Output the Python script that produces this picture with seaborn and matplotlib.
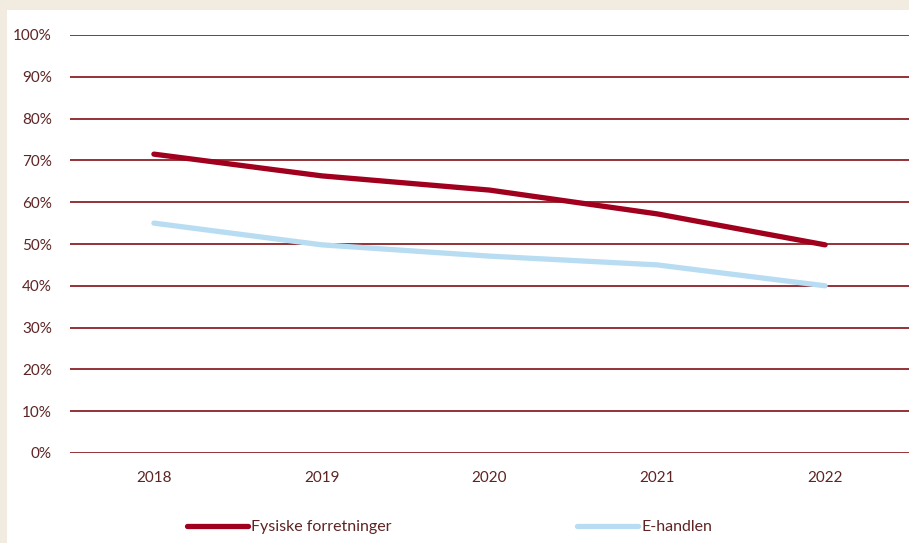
import matplotlib
matplotlib.use("Agg")
import matplotlib.pyplot as plt
import pandas as pd
import seaborn as sns
from matplotlib.patches import Rectangle
from matplotlib.ticker import PercentFormatter

years = ["2018", "2019", "2020", "2021", "2022"]
fysiske = [71.5, 66.3, 62.9, 57.2, 49.8]
ehandlen = [55.0, 49.8, 47.1, 45.0, 40.0]
series_names = ["Fysiske forretninger", "E-handlen"]

RED = "#a0001e"
BLUE = "#b8ddf2"
GRID = "#8a2228"
TEXT = "#5e2424"
BEIGE = "#f1ebe0"

df = pd.DataFrame(
    {
        "year": years * 2,
        "value": fysiske + ehandlen,
        "series": [series_names[0]] * len(years) + [series_names[1]] * len(years),
    }
)

sns.set_theme(style="white")
plt.rcParams["font.family"] = ["Lato", "DejaVu Sans"]

fig = plt.figure(figsize=(9.09, 5.43), dpi=100, facecolor=BEIGE)
fig.patches.append(
    Rectangle((7 / 909, 0), 1, 1 - 10 / 543, transform=fig.transFigure,
              facecolor="white", edgecolor="none", zorder=-5)
)
ax = fig.add_axes([70 / 909, 90 / 543, 1 - 70 / 909, (453 - 35) / 543])
ax.set_facecolor("none")

sns.lineplot(
    data=df, x="year", y="value", hue="series",
    palette=[RED, BLUE], linewidth=3.8, ax=ax, zorder=3,
    solid_capstyle="round",
)

ax.set_ylim(0, 100)
ax.set_xlim(-0.5, 4.5)
ax.set_yticks(range(0, 101, 10))
ax.yaxis.set_major_formatter(PercentFormatter(decimals=0))
ax.grid(axis="y", color=GRID, linewidth=1.3)
ax.set_axisbelow(True)
for s in ax.spines.values():
    s.set_visible(False)
ax.tick_params(axis="both", length=0, labelsize=11, labelcolor=TEXT)
ax.tick_params(axis="y", pad=13)
ax.tick_params(axis="x", pad=13)
ax.set_xlabel("")
ax.set_ylabel("")

handles, labels = ax.get_legend_handles_labels()
ax.legend(
    handles, labels, loc="center left", bbox_to_anchor=(117 / 839, -74 / 418),
    borderaxespad=0, borderpad=0,
    ncol=2, frameon=False, fontsize=11.5, labelcolor=TEXT,
    handlelength=3.8, handletextpad=0.2, columnspacing=11.65,
)

fig.savefig("out.png", dpi=100, facecolor=BEIGE)
